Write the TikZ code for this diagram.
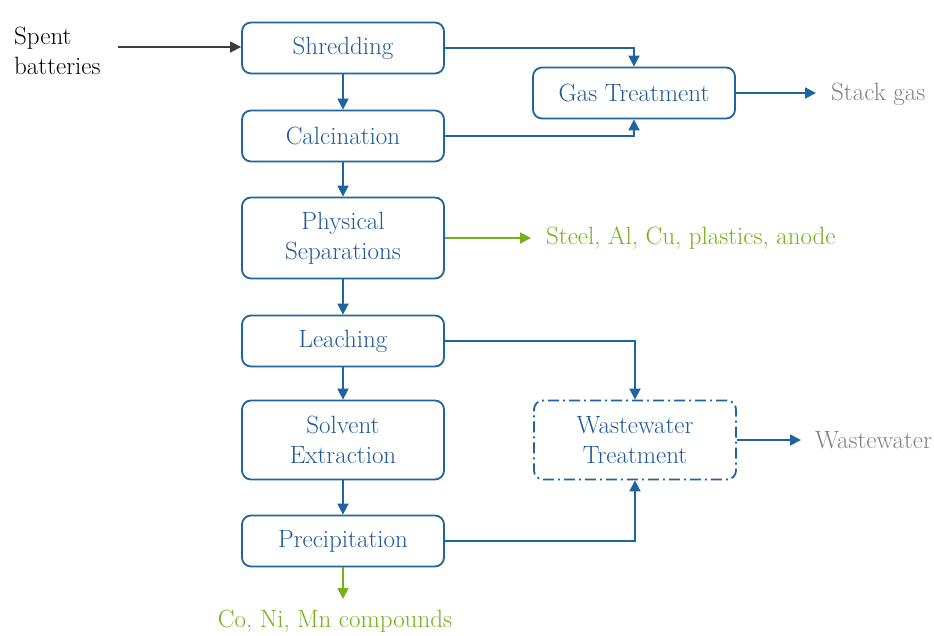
\documentclass[tikz,border=0pt]{standalone}
\usepackage{fontspec}
\usetikzlibrary{arrows.meta}
\definecolor{boxblue}{RGB}{30,100,160}
\definecolor{txtblue}{RGB}{31,90,150}
\definecolor{lgreen}{RGB}{118,176,26}
\definecolor{tgray}{RGB}{128,128,128}
\definecolor{dgray}{RGB}{60,60,60}
\tikzset{
  proc/.style={draw=boxblue, line width=1.8pt, rounded corners=9pt, minimum width=202pt, minimum height=51pt, text=txtblue, align=center, inner sep=0pt, font=\fontsize{25}{30}\selectfont},
  wwbox/.style={proc, dash pattern=on 11pt off 4pt on 2pt off 4pt},
  flow/.style={draw=boxblue, line width=1.8pt, -{Triangle[length=11pt,width=11pt]}},
  gflow/.style={draw=lgreen, line width=1.8pt, -{Triangle[length=11pt,width=11pt]}},
  kflow/.style={draw=dgray, line width=1.5pt, -{Triangle[length=11pt,width=11pt]}},
  lbl/.style={inner sep=0pt, font=\fontsize{25}{30}\selectfont}
}
\begin{document}
\begin{tikzpicture}[x=1pt,y=-1pt]
\useasboundingbox (0,0) rectangle (934,635);
\node[proc] (shred) at (343,48) {Shredding};
\node[proc] (calc) at (343,136) {Calcination};
\node[proc, minimum height=81pt] (phys) at (343,238) {Physical\\Separations};
\node[proc] (leach) at (343,341) {Leaching};
\node[proc, minimum height=79pt] (solv) at (343,440) {Solvent\\Extraction};
\node[proc] (prec) at (343,541) {Precipitation};
\node[proc] (gas) at (634,93) {Gas Treatment};
\node[wwbox] (ww) at (635,440) [minimum height=79pt] {Wastewater\\Treatment};
% labels
\node[lbl, align=left, anchor=west] (spent) at (14,51) {Spent\\batteries};
\node[lbl, text=tgray, anchor=west] (stack) at (831,94) {Stack gas};
\node[lbl, text=lgreen, anchor=west] (steel) at (546,238) {Steel, Al, Cu, plastics, anode};
\node[lbl, text=tgray, anchor=west] (wwout) at (815,440) {Wastewater};
\node[lbl, text=lgreen] (co) at (335,621) {Co, Ni, Mn compounds};
\coordinate (spentend) at (118,47);
\coordinate (stackend) at (816,93);
\coordinate (steelend) at (531,238);
\coordinate (wwend) at (801,440);
\coordinate (coend) at (343,599);
% connectors
\draw[kflow] (spentend) -- (shred.west |- spentend);
\draw[flow] (shred) -- (calc);
\draw[flow] (calc) -- (phys);
\draw[flow] (phys) -- (leach);
\draw[flow] (leach) -- (solv);
\draw[flow] (solv) -- (prec);
\draw[flow] (shred.east) -| (gas.north);
\draw[flow] (calc.east) -| (gas.south);
\draw[flow] (leach.east) -| (ww.north);
\draw[flow] (prec.east) -| (ww.south);
\draw[flow] (gas.east) -- (stackend);
\draw[flow] (ww.east) -- (wwend);
\draw[gflow] (phys.east) -- (steelend);
\draw[gflow] (prec.south) -- (coend);
\end{tikzpicture}
\end{document}
